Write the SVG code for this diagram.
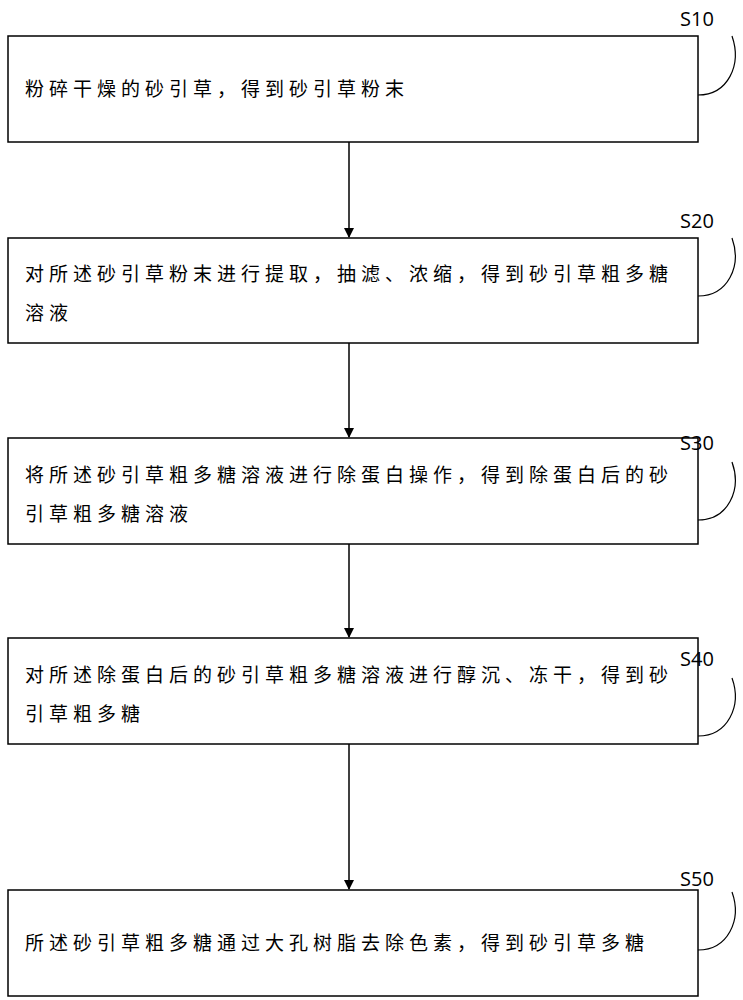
<svg xmlns="http://www.w3.org/2000/svg" width="743" height="1000" viewBox="0 0 743 1000">
<defs>
<style>
.box{fill:#fff;stroke:#000;stroke-width:1.5}
.t{font-family:"Noto Sans CJK SC",sans-serif;font-size:19px;letter-spacing:5px;fill:#000}
.l{font-family:"Open Sans","Liberation Sans",sans-serif;font-size:20px;fill:#000}
.c{fill:none;stroke:#000;stroke-width:1.2}
</style>
<marker id="a" markerWidth="10" markerHeight="10" refX="9" refY="5" orient="auto" markerUnits="userSpaceOnUse"><path d="M0,0 L10,5 L0,10 Z"/></marker>
</defs>
<rect width="743" height="1000" fill="#fff"/>
<g id="connectors" stroke="#000" stroke-width="1.5" fill="none">
<line x1="349" y1="142" x2="349" y2="237" marker-end="url(#a)"/>
<line x1="349" y1="343" x2="349" y2="437" marker-end="url(#a)"/>
<line x1="349" y1="544" x2="349" y2="637" marker-end="url(#a)"/>
<line x1="349" y1="744" x2="349" y2="889" marker-end="url(#a)"/>
</g>
<g id="s10"><rect class="box" x="8" y="36" width="690" height="106"/><text class="t" x="25" y="96">粉碎干燥的砂引草，得到砂引草粉末</text><text class="l" x="680" y="26">S10</text><path class="c" d="M698,95 C728,95 742,65 732,36"/></g>
<g id="s20"><rect class="box" x="8" y="238" width="690" height="105"/><text class="t" x="25" y="281">对所述砂引草粉末进行提取，抽滤、浓缩，得到砂引草粗多糖</text><text class="t" x="25" y="320">溶液</text><text class="l" x="680" y="228">S20</text><path class="c" d="M698,296 C728,296 742,266 732,238"/></g>
<g id="s30"><rect class="box" x="8" y="438" width="690" height="106"/><text class="t" x="25" y="482">将所述砂引草粗多糖溶液进行除蛋白操作，得到除蛋白后的砂</text><text class="t" x="25" y="521">引草粗多糖溶液</text><text class="l" x="680" y="450">S30</text><path class="c" d="M698,520 C728,520 742,490 732,462"/></g>
<g id="s40"><rect class="box" x="8" y="638" width="690" height="106"/><text class="t" x="25" y="682">对所述除蛋白后的砂引草粗多糖溶液进行醇沉、冻干，得到砂</text><text class="t" x="25" y="721">引草粗多糖</text><text class="l" x="680" y="666">S40</text><path class="c" d="M698,736 C728,736 742,706 732,678"/></g>
<g id="s50"><rect class="box" x="8" y="890" width="690" height="106"/><text class="t" x="25" y="950">所述砂引草粗多糖通过大孔树脂去除色素，得到砂引草多糖</text><text class="l" x="680" y="886">S50</text><path class="c" d="M698,950 C728,950 742,920 732,892"/></g>
</svg>
